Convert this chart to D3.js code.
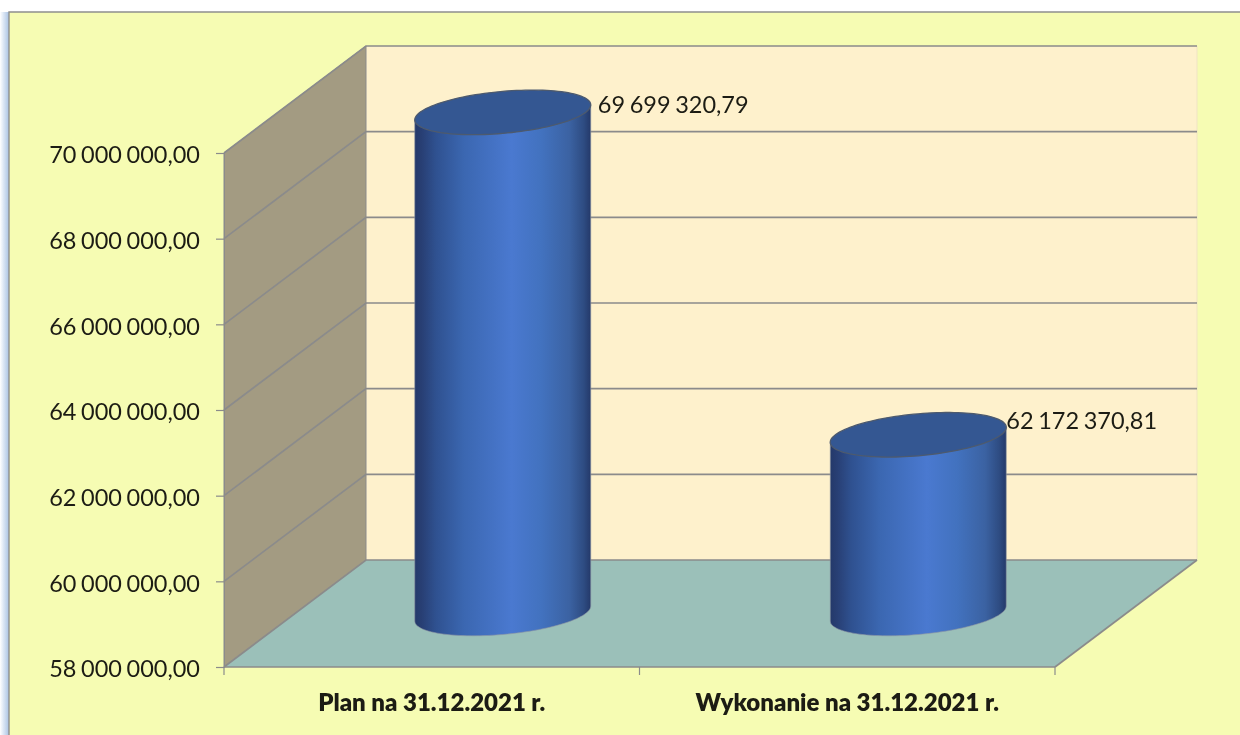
<!DOCTYPE html>
<html><head><meta charset="utf-8">
<style>html,body{margin:0;padding:0;background:#fff;overflow:hidden}svg{display:block;filter:blur(.4px)}text{font-family:Lato,"Noto Sans",sans-serif;fill:#1c1c14}</style>
<script src="https://cdn.jsdelivr.net/npm/d3@7"></script></head><body><svg id="c" width="1240" height="735"></svg>
<script>
const categories=["Plan na 31.12.2021 r.","Wykonanie na 31.12.2021 r."];
const values=[69699320.79,62172370.81];
const tickValues=[58e6,60e6,62e6,64e6,66e6,68e6,70e6];
const labelDx=[7,0],labelDy=[-7.5,-14];
const W=1240,H=735;
const svg=d3.select("#c");
const pl=d3.formatLocale({decimal:",",thousands:" ",grouping:[3],currency:["","zł"]});
const fmt=pl.format(",.2f");
const y=d3.scaleLinear().domain([58e6,70e6]).range([667,153]);
const x=d3.scaleBand().domain(categories).range([224,1055]);
const depthX=142,depthY=-107,lineC="#8b8b8b";
const numStyle="font-family:Lato;word-spacing:-1.4px";
const defs=svg.append("defs");
function grad(id,stops){const g=defs.append("linearGradient").attr("id",id).attr("x1","0").attr("x2","1").attr("y1","0").attr("y2","0");
 stops.forEach(s=>g.append("stop").attr("offset",s[0]).attr("stop-color",s[1]));}
grad("cyl",[[0,"#24396a"],[.04,"#283f74"],[.12,"#2f5190"],[.28,"#3b67b1"],[.55,"#4a79d0"],[.72,"#4272bf"],[.88,"#3b62a2"],[.96,"#2e4c82"],[1,"#24396a"]]);
grad("edge",[[0,"#ffffff"],[.35,"#dfe9f6"],[1,"#a9c2e2"]]);
svg.append("rect").attr("x",0).attr("y",12).attr("width",9).attr("height",H-12).attr("fill","url(#edge)");
svg.append("rect").attr("x",9).attr("y",12).attr("width",W-9).attr("height",H-12).attr("fill","#f6fcb3");
svg.append("path").attr("d",`M9,${H}V12H${W}`).attr("fill","none").attr("stroke","#8f8f8f").attr("stroke-width",1.4);
const [x0,x1]=x.range(),yb=y(58e6),yt=y(70e6);
const poly=p=>"M"+p.map(d=>d.join(",")).join("L")+"Z";
svg.append("rect").attr("x",x0+depthX).attr("y",yt+depthY).attr("width",x1-x0).attr("height",yb-yt).attr("fill","#fef1cc");
svg.append("path").attr("d",poly([[x0,yb],[x0,yt],[x0+depthX,yt+depthY],[x0+depthX,yb+depthY]])).attr("fill","#a39b82").attr("stroke",lineC).attr("stroke-width",1);
svg.append("path").attr("d",poly([[x0,yb],[x0+depthX,yb+depthY],[x1+depthX,yb+depthY],[x1,yb]])).attr("fill","#9bc0b9");
svg.append("line").attr("x1",x1+depthX).attr("x2",x1+depthX).attr("y1",yt+depthY).attr("y2",yb+depthY).attr("stroke","#f0e3c4").attr("stroke-width",1);
const grid=svg.append("g").attr("fill","none").attr("stroke",lineC).attr("stroke-width",1.7);
tickValues.forEach(v=>{const yy=y(v);
 grid.append("path").attr("d",`M${x0},${yy}L${x0+depthX},${yy+depthY}L${x1+depthX},${yy+depthY}`);});
grid.append("path").attr("d",`M${x1},${yb}L${x1+depthX},${yb+depthY}`);
grid.append("path").attr("d",`M${x0},${yb}L${x1},${yb}`);
const ax=svg.append("g").attr("transform",`translate(${x0},0)`).call(d3.axisLeft(y).tickValues(tickValues).tickSize(8).tickPadding(16).tickFormat(fmt));
ax.select(".domain").attr("stroke",lineC).attr("stroke-width",1);
ax.selectAll(".tick line").attr("stroke",lineC).attr("stroke-width",1.2);
ax.selectAll("text").attr("font-size",23.5).attr("dy",".42em").attr("style",numStyle).attr("fill","#1c1c14");
const bx=svg.append("g").attr("transform",`translate(0,${yb})`).call(d3.axisBottom(x).tickSize(8).tickPadding(19));
bx.select(".domain").remove();
bx.selectAll(".tick line").remove();
bx.selectAll("text").attr("font-size",24).attr("font-weight",800).attr("style",'font-family:Lato').attr("fill","#1c1c14");
[x0,(x0+x1)/2,x1].forEach(t=>svg.append("line").attr("x1",t).attr("x2",t).attr("y1",yb).attr("y2",yb+8).attr("stroke",lineC).attr("stroke-width",1.2));
const frac=.5,rx=88,shear=7.5,ry=21;
const ts=d3.range(0,361,3).map(d=>d*Math.PI/180);
const ell=(cx,cy,sub)=>d3.line().x(t=>cx+rx*Math.cos(t)).y(t=>cy-shear*Math.cos(t)+ry*Math.sin(t))(sub);
const front=ts.filter(t=>t<=Math.PI+1e-6);
values.forEach((v,i)=>{
 const cat=categories[i];
 const cx=x(cat)+x.bandwidth()/2+frac*depthX, by=yb+frac*depthY, ty=y(v)+frac*depthY;
 const bottom=ell(cx,by,front).replace(/^M/,"");
 const g=svg.append("g");
 g.append("path").attr("d",`M${cx+rx},${ty-shear}L${bottom}L${cx-rx},${ty+shear}Z`).attr("fill","url(#cyl)").attr("stroke","#8d96a3").attr("stroke-width",.6);
 g.append("path").attr("d",ell(cx,ty,ts)+"Z").attr("fill","#345792").attr("stroke","#4d5a6e").attr("stroke-width",1.3);
 svg.append("text").attr("x",cx+rx+labelDx[i]).attr("y",ty+labelDy[i]).attr("dy",".35em").attr("font-size",23.5).attr("style",numStyle).text(fmt(v));
});
</script></body></html>
